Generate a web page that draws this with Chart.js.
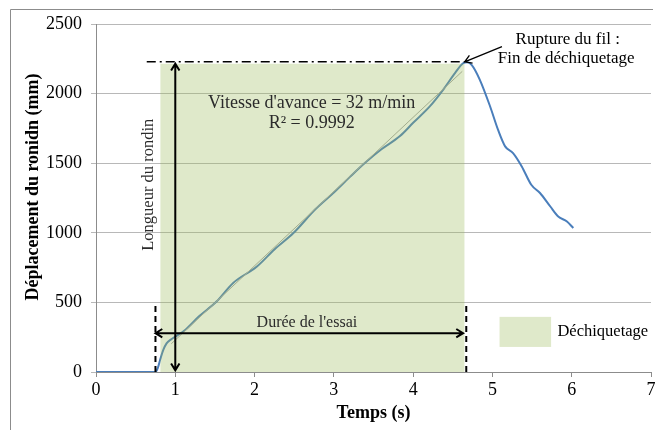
<!DOCTYPE html>
<html>
<head>
<meta charset="utf-8">
<script src="https://cdn.jsdelivr.net/npm/chart.js@4.4.1/dist/chart.umd.min.js"></script>
<style>
  body { margin: 0; background: #fff; }
  canvas { display: block; }
</style>
</head>
<body>
<canvas id="chart" width="655" height="430"></canvas>
<script>
// Temps (s) / déplacement (mm)
const temps = [0, 0.75, 0.78, 0.81, 0.85, 0.89, 0.95, 1.0, 1.12, 1.3, 1.52, 1.73, 2.03, 2.25, 2.49, 2.76, 3.0, 3.2, 3.39, 3.6, 3.83, 4.0, 4.21, 4.38, 4.53, 4.63, 4.68, 4.74, 4.84, 4.97, 5.07, 5.16, 5.26, 5.37, 5.49, 5.6, 5.73, 5.83, 5.94, 6.02];
const deplacement = [0, 0, 30, 90, 160, 206, 235, 254, 300, 400, 506, 640, 758, 880, 998, 1165, 1290, 1400, 1501, 1600, 1693, 1790, 1908, 2029, 2149, 2218, 2225, 2205, 2101, 1909, 1741, 1621, 1573, 1477, 1345, 1286, 1189, 1117, 1081, 1034];

// linear trendline ends
const trendX = [0.95, 4.62];
const trendY = [203, 2160];

// shaded "Déchiquetage" zone
const zoneX = [0.81, 4.65];
const zoneTop = 2215;

const xTicks = [0, 7, 1];
const yTicks = [0, 2500, 500];

const serif = '"Liberation Serif", "Times New Roman", serif';
Chart.defaults.font.family = serif;
Chart.defaults.color = '#000';

function arrowHead(ctx, fx, fy, tx, ty) {
    const a = Math.atan2(ty - fy, tx - fx);
    const len = 8, s = 0.55;
    ctx.moveTo(tx - len * Math.cos(a - s), ty - len * Math.sin(a - s));
    ctx.lineTo(tx, ty);
    ctx.lineTo(tx - len * Math.cos(a + s), ty - len * Math.sin(a + s));
}

function arrow(ctx, x1, y1, x2, y2, both) {
    ctx.beginPath();
    ctx.moveTo(x1, y1);
    ctx.lineTo(x2, y2);
    arrowHead(ctx, x1, y1, x2, y2);
    if (both) arrowHead(ctx, x2, y2, x1, y1);
    ctx.stroke();
}

const annotations = {
    id: 'annotations',
    beforeDraw(chart) {
        const ctx = chart.ctx;
        ctx.save();
        ctx.strokeStyle = '#8c8c8c';
        ctx.lineWidth = 1;
        ctx.beginPath();
        ctx.moveTo(10.5, 430);
        ctx.lineTo(10.5, 9.5);
        ctx.lineTo(653, 9.5);
        ctx.stroke();
        ctx.restore();
    },
    afterDatasetsDraw(chart) {
        const {ctx, scales: {x, y}} = chart;
        const px = v => x.getPixelForValue(v);
        const py = v => y.getPixelForValue(v);
        ctx.save();
        ctx.strokeStyle = '#000';
        ctx.fillStyle = '#000';

        // dash-dot top line
        ctx.lineWidth = 1.5;
        ctx.setLineDash([9, 4, 2, 4]);
        ctx.beginPath();
        ctx.moveTo(px(0.64), py(2228));
        ctx.lineTo(px(4.65), py(2228));
        ctx.stroke();

        // vertical dashed limits
        ctx.lineWidth = 2;
        ctx.setLineDash([6, 4]);
        ctx.beginPath();
        ctx.moveTo(px(0.75), py(0));
        ctx.lineTo(px(0.75), py(490));
        ctx.moveTo(px(4.67), py(0));
        ctx.lineTo(px(4.67), py(496));
        ctx.stroke();
        ctx.setLineDash([]);

        // double arrows
        ctx.lineWidth = 2;
        arrow(ctx, px(1.0), py(12), px(1.0), py(2215), true);
        arrow(ctx, px(0.75), py(279), px(4.63), py(279), true);

        // rupture arrow
        ctx.lineWidth = 1.3;
        arrow(ctx, px(5.12), py(2338), px(4.65), py(2228), false);

        // texts
        ctx.textAlign = 'center';
        ctx.textBaseline = 'middle';
        ctx.fillStyle = '#2b2b2b';
        ctx.font = '18px ' + serif;
        ctx.fillText("Vitesse d'avance = 32 m/min", px(2.72), py(1928));
        ctx.fillText('R² = 0.9992', px(2.72), py(1784));
        ctx.font = '16px ' + serif;
        ctx.fillText("Durée de l'essai", px(2.66), py(352));
        ctx.font = '17px ' + serif;
        ctx.fillStyle = '#000';
        ctx.fillText('Rupture du fil :', px(5.95), py(2388));
        ctx.fillText('Fin de déchiquetage', px(5.93), py(2252));

        ctx.save();
        ctx.translate(px(0.66), py(1345));
        ctx.rotate(-Math.PI / 2);
        ctx.fillStyle = '#2b2b2b';
        ctx.font = '16.5px ' + serif;
        ctx.fillText('Longueur du rondin', 0, 0);
        ctx.restore();

        // axis title (y), centred as in the original
        ctx.save();
        ctx.translate(33, 187);
        ctx.rotate(-Math.PI / 2);
        ctx.fillStyle = '#000';
        ctx.font = 'bold 18px ' + serif;
        ctx.fillText('Déplacement du ronidn (mm)', 0, 0);
        ctx.restore();

        // legend
        ctx.fillStyle = 'rgba(155, 187, 89, 0.32)';
        ctx.fillRect(px(5.09), py(396), px(5.74) - px(5.09), py(180) - py(396));
        ctx.fillStyle = '#000';
        ctx.textAlign = 'left';
        ctx.font = '16.5px ' + serif;
        ctx.fillText('Déchiquetage', px(5.82), py(288));
        ctx.restore();
    }
};

new Chart(document.getElementById('chart'), {
    type: 'line',
    data: {
        datasets: [
            {
                label: 'Déchiquetage',
                data: zoneX.map(v => ({x: v, y: zoneTop})),
                borderWidth: 0,
                pointRadius: 0,
                fill: 'origin',
                backgroundColor: 'rgba(155, 187, 89, 0.32)',
                order: 0
            },
            {
                label: 'Tendance',
                data: trendX.map((v, i) => ({x: v, y: trendY[i]})),
                borderColor: '#a6a6a6',
                borderWidth: 1,
                pointRadius: 0,
                order: 1
            },
            {
                label: 'Déplacement',
                data: temps.map((t, i) => ({x: t, y: deplacement[i]})),
                borderColor: '#4a7ebb',
                borderWidth: 2,
                pointRadius: 0,
                cubicInterpolationMode: 'monotone',
                order: 2
            }
        ]
    },
    options: {
        responsive: false,
        animation: false,
        devicePixelRatio: 1,
        layout: { padding: { left: 10, top: 24, right: 4, bottom: 0 } },
        plugins: { legend: { display: false }, tooltip: { enabled: false } },
        scales: {
            x: {
                type: 'linear',
                min: xTicks[0], max: xTicks[1],
                ticks: { stepSize: xTicks[2], font: { size: 18 }, padding: 2, maxRotation: 0 },
                grid: { drawOnChartArea: false, tickLength: 5, color: '#8c8c8c' },
                border: { color: '#8c8c8c' },
                title: { display: true, text: 'Temps (s)', font: { size: 18, weight: 'bold' }, padding: { top: 0, bottom: 6 } },
                afterFit(scale) { scale.height = 58; scale.paddingRight = 0; scale.paddingLeft = 0; }
            },
            y: {
                min: yTicks[0], max: yTicks[1],
                ticks: { stepSize: yTicks[2], font: { size: 18 }, padding: 9, callback: v => String(v) },
                grid: { color: '#b8b8b8', tickLength: 5 },
                border: { color: '#8c8c8c' },
                afterFit(scale) { scale.width = 86; scale.paddingTop = 0; scale.paddingBottom = 0; }
            }
        }
    },
    plugins: [annotations]
});
</script>
</body>
</html>
